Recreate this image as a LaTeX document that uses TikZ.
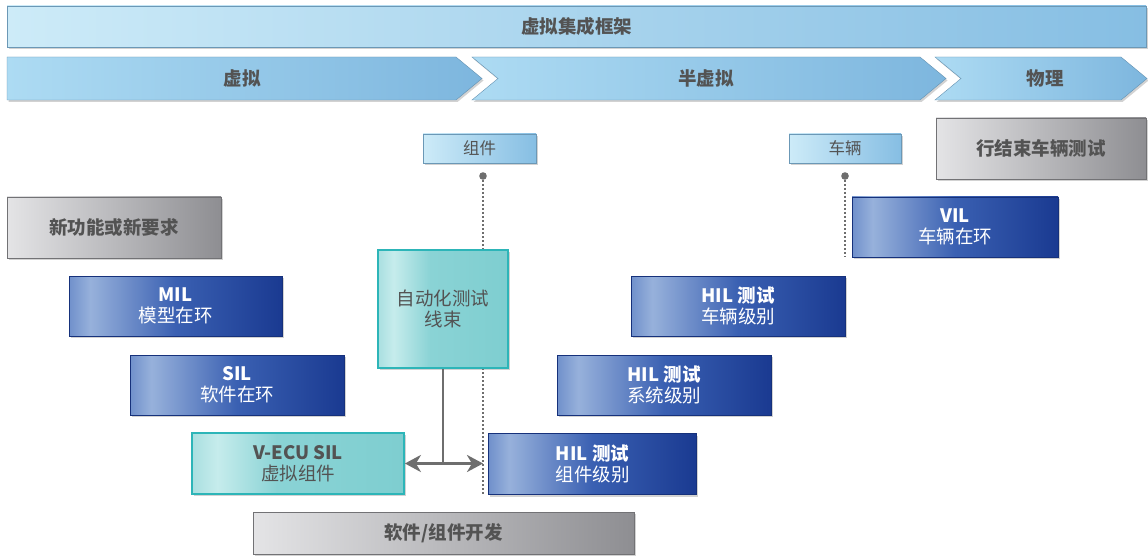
\documentclass[tikz,border=0pt]{standalone}
\usepackage{fontspec}
\setmainfont{Noto Sans CJK SC}
\usetikzlibrary{shadows,arrows.meta}
\definecolor{txtgray}{HTML}{535353}
\definecolor{skyL}{HTML}{CDEBF8}
\definecolor{skyM}{HTML}{9FD3EF}
\definecolor{skyR}{HTML}{86BEE3}
\definecolor{chevL}{HTML}{ADDBF3}
\definecolor{chevR}{HTML}{7DB6DE}
\definecolor{blueE}{HTML}{7090CB}
\definecolor{blueL}{HTML}{97B1DB}
\definecolor{blueM}{HTML}{3A60B2}
\definecolor{blueR}{HTML}{1A3A91}
\definecolor{grayL}{HTML}{E4E4E6}
\definecolor{grayR}{HTML}{8E8E92}
\definecolor{tealE}{HTML}{A9DFE0}
\definecolor{tealL}{HTML}{C6ECEC}
\definecolor{tealM}{HTML}{8AD3D5}
\definecolor{tealR}{HTML}{7ECED0}
\definecolor{tealB}{HTML}{2DB5B8}
\definecolor{connGray}{HTML}{6E6E6E}
\pgfdeclarehorizontalshading{bluesh}{100bp}{color(0bp)=(blueE); color(25bp)=(blueE); color(30bp)=(blueL); color(50bp)=(blueM); color(75bp)=(blueR); color(100bp)=(blueR)}
\pgfdeclarehorizontalshading{tealsh}{100bp}{color(0bp)=(tealE); color(25bp)=(tealE); color(31bp)=(tealL); color(45bp)=(tealM); color(75bp)=(tealR); color(100bp)=(tealR)}
\begin{document}
\begin{tikzpicture}[x=1pt,y=-1pt,
  shad/.style={drop shadow={opacity=0.35,shadow xshift=1.5pt,shadow yshift=-2pt}},
  boxbase/.style={shad,inner sep=0pt,align=center,font=\fontsize{18.5}{21}\selectfont},
  bluebox/.style={boxbase,shading=bluesh,draw=blueR!85!black,line width=0.8pt,text=white},
  graybox/.style={boxbase,left color=grayL,right color=grayR,draw=grayR!80!black,line width=0.4pt,text=txtgray,font=\fontsize{18.5}{21}\selectfont\bfseries},
  tealbox/.style={boxbase,shading=tealsh,draw=tealB,line width=1.8pt,text=txtgray},
  skybox/.style={boxbase,left color=skyL,right color=skyR,draw=skyR!80!black,line width=0.4pt,text=txtgray,font=\fontsize{16.5}{20}\selectfont},
  barbox/.style={boxbase,left color=skyL,middle color=skyM,right color=skyR,draw=skyR!80!black,line width=0.4pt,text=txtgray,font=\fontsize{18.5}{21}\selectfont\bfseries},
  chev/.style={shad,left color=chevL,right color=chevR,draw=chevR!80!black,line width=0.4pt},
  chevtext/.style={text=txtgray,font=\fontsize{18.5}{21}\selectfont\bfseries},
  dotline/.style={connGray,line width=2.2pt,dash pattern=on 2pt off 2pt},
  conn/.style={connGray,line width=2.8pt},
  tip/.style={-{Stealth[length=16pt,width=17pt,inset=5pt]}}
]
\useasboundingbox (0,0) rectangle (1148,556);
\fill[white] (0,0) rectangle (1148,556);

% top bar
\node[barbox,minimum width=1139,minimum height=41] (frame) at (576.5,26.5) {虚拟集成框架};

% chevrons
\path[chev] (7,57) -- (456,57) -- (482,78.5) -- (456,100) -- (7,100) -- cycle;
\path[chev] (472,57) -- (920,57) -- (946,78.5) -- (920,100) -- (472,100) -- (498,78.5) -- cycle;
\path[chev] (935,57) -- (1121,57) -- (1147,78.5) -- (1121,100) -- (935,100) -- (961,78.5) -- cycle;
\node[chevtext] (virt) at (242,78.5) {虚拟};
\node[chevtext] (semi) at (706,78.5) {半虚拟};
\node[chevtext] (phys) at (1045,78.5) {物理};

% dotted lines (behind boxes)
\coordinate (d1) at (483,176);
\coordinate (d1e) at (483,495);
\coordinate (d2) at (845,176);
\coordinate (d2e) at (845,257);
\draw[dotline] (d1) -- (d1e);
\draw[dotline] (d2) -- (d2e);
\fill[connGray] (d1) circle (3.8);
\fill[connGray] (d2) circle (3.8);

% small labels
\node[skybox,minimum width=113,minimum height=29] (comp) at (479.5,148.5) {组件};
\node[skybox,minimum width=112,minimum height=29] (veh) at (845,148.5) {车辆};

% gray boxes
\node[graybox,minimum width=210,minimum height=61] (eol) at (1041,148.5) {行结束车辆测试};
\node[graybox,minimum width=214,minimum height=61] (newreq) at (114,227.5) {新功能或新要求};
\node[graybox,minimum width=381,minimum height=42] (swdev) at (443.5,533) {软件/组件开发};

% blue boxes
\node[bluebox,minimum width=206,minimum height=60] (vil) at (955,227) {\textbf{VIL}\\车辆在环};
\node[bluebox,minimum width=213,minimum height=60] (mil) at (175.5,306) {\textbf{MIL}\\模型在环};
\node[bluebox,minimum width=214,minimum height=60] (hilv) at (738,306) {\textbf{HIL 测试}\\车辆级别};
\node[bluebox,minimum width=214,minimum height=60] (sil) at (237,385) {\textbf{SIL}\\软件在环};
\node[bluebox,minimum width=214,minimum height=60] (hils) at (664,385) {\textbf{HIL 测试}\\系统级别};
\node[bluebox,minimum width=208,minimum height=61] (hilc) at (592.5,464) {\textbf{HIL 测试}\\组件级别};

% teal boxes
\node[tealbox,minimum width=130,minimum height=118] (auto) at (443,309) {自动化测试\\线束};
\node[tealbox,minimum width=212,minimum height=61] (vecu) at (298,463.5) {\textbf{V-ECU SIL}\\虚拟组件};

% connectors
\coordinate (junc) at (auto.south |- vecu.east);
\draw[conn] (auto.south) -- (junc);
\draw[conn,tip] (junc) -- (vecu.east);
\draw[conn,tip] (junc) -- (d1e |- junc);
\end{tikzpicture}
\end{document}
